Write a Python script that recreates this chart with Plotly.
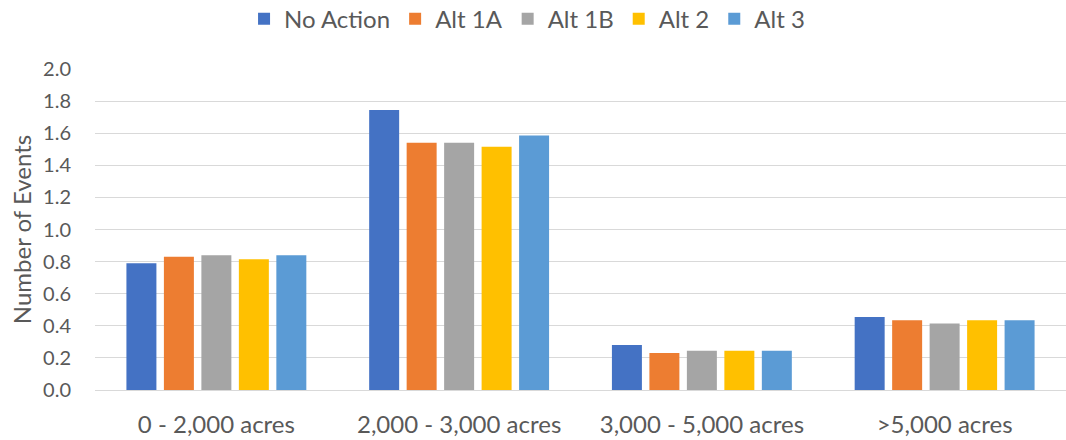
import plotly.graph_objects as go

categories = ["0 - 2,000 acres", "2,000 - 3,000 acres", "3,000 - 5,000 acres", ">5,000 acres"]
series_names = ["No Action", "Alt 1A", "Alt 1B", "Alt 2", "Alt 3"]
no_action = [0.79, 1.745, 0.28, 0.455]
alt_1a = [0.83, 1.54, 0.23, 0.435]
alt_1b = [0.84, 1.54, 0.245, 0.415]
alt_2 = [0.815, 1.515, 0.245, 0.435]
alt_3 = [0.84, 1.585, 0.245, 0.435]
y_ticks = [0.0, 0.2, 0.4, 0.6, 0.8, 1.0, 1.2, 1.4, 1.6, 1.8, 2.0]

colors = ["#4472C4", "#ED7D31", "#A5A5A5", "#FFC000", "#5B9BD5"]
values = [no_action, alt_1a, alt_1b, alt_2, alt_3]

font_family = "Lato, 'Open Sans', sans-serif"
text_color = "#595959"

fig = go.Figure()
for name, vals, col in zip(series_names, values, colors):
    fig.add_trace(go.Bar(x=categories, y=vals, name=name, marker_color=col,
                         marker_line_width=0))

fig.update_layout(
    width=1066, height=440,
    barmode="group", bargap=0.228, bargroupgap=0.2,
    plot_bgcolor="white", paper_bgcolor="white",
    margin=dict(l=95, r=0, t=69, b=50, autoexpand=False),
    font=dict(family=font_family, size=24, color=text_color),
    legend=dict(orientation="h", x=0.1535, xanchor="left", xref="paper",
                y=1.155, yanchor="middle", yref="paper",
                font=dict(size=24, color=text_color),
                itemwidth=30, tracegroupgap=0),
    xaxis=dict(showgrid=False, showline=False, ticks="", automargin=False,
               tickfont=dict(size=24), ticklabelstandoff=18, tickangle=0),
    yaxis=dict(range=[0, 2.0], tickvals=y_ticks, tickformat=".1f", showgrid=True,
               gridcolor="#D9D9D9", gridwidth=1, zeroline=True, zerolinecolor="#D9D9D9",
               zerolinewidth=1, ticks="", automargin=False, ticklabelstandoff=23,
               title=dict(text="Number of Events", font=dict(size=24), standoff=4),
               tickfont=dict(size=20)),
)

fig.write_html("out.html", config={"displayModeBar": False},
               post_script="document.body.style.margin='0';")
